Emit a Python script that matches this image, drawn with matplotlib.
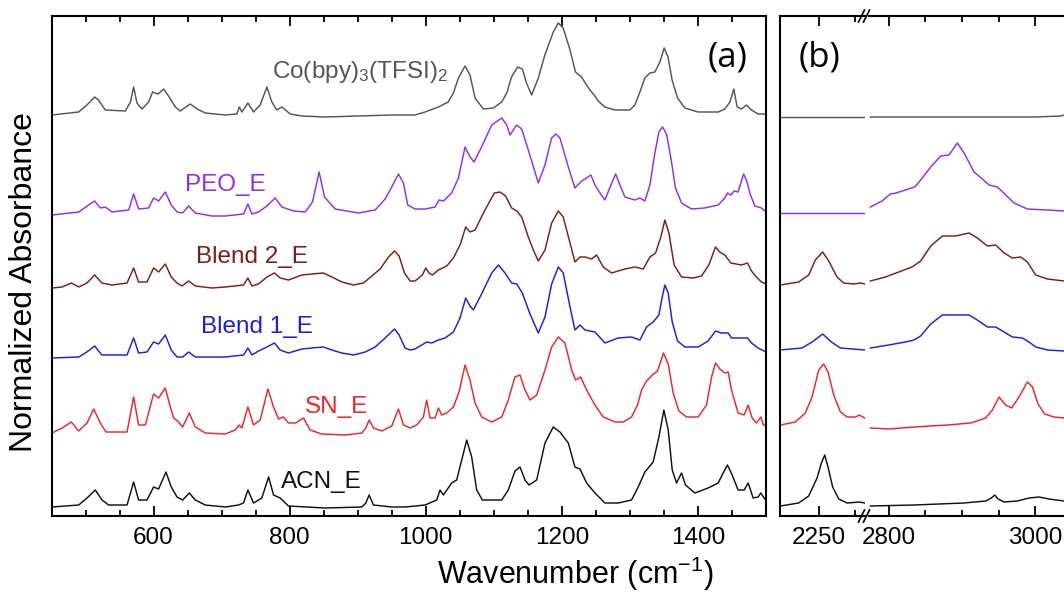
import matplotlib
matplotlib.use("Agg")
import matplotlib.pyplot as plt
from matplotlib.lines import Line2D
from matplotlib.ticker import MultipleLocator, FixedLocator

plt.rcParams['font.family'] = ['Liberation Sans', 'DejaVu Sans']
plt.rcParams['mathtext.fontset'] = 'custom'
plt.rcParams['mathtext.rm'] = 'Liberation Sans'
plt.rcParams['mathtext.it'] = 'Liberation Sans:italic'
plt.rcParams['mathtext.bf'] = 'Liberation Sans:bold'

# ---------------- data: panel (a) ----------------
co_wn = [450.8, 490, 502, 513.4, 519, 529, 558.5, 566, 570.7, 575.6, 583, 592.7, 598.6, 606.5, 614.8, 622, 632, 639,
         654, 664, 676, 705, 722.4, 725.9, 729.8, 738.6, 746.9, 756.7, 766.5, 773.8, 781, 788.5, 800.8, 818, 852, 901,
         950, 984, 999, 1018.6, 1033, 1040.6, 1048, 1057.7, 1065, 1072.4, 1084.6, 1099.3, 1111.6, 1119, 1126, 1135,
         1142, 1148, 1155.6, 1165.4, 1175, 1187.4, 1194.8, 1202, 1212, 1220, 1229, 1239, 1248.6, 1253.5, 1263, 1278,
         1300, 1307.3, 1314.7, 1322, 1329.4, 1336.7, 1344, 1350.4, 1356, 1362, 1370, 1380.8, 1400, 1429.7, 1439.5,
         1447, 1452.7, 1457.6, 1464, 1471.3, 1478.7, 1488.4, 1500]
co_ab = [4.01, 4.04, 4.11, 4.19, 4.16, 4.06, 4.05, 4.14, 4.29, 4.13, 4.07, 4.14, 4.24, 4.22, 4.27, 4.20, 4.09, 4.05,
         4.12, 4.07, 4.03, 4.01, 4.02, 4.09, 4.04, 4.13, 4.04, 4.11, 4.29, 4.14, 4.06, 4.09, 4.02, 4.00, 3.99, 4.00,
         4.01, 4.01, 4.04, 4.09, 4.14, 4.23, 4.38, 4.50, 4.41, 4.18, 4.07, 4.08, 4.14, 4.23, 4.39, 4.49,
         4.47, 4.33, 4.21, 4.38, 4.61, 4.84, 4.93, 4.88, 4.66, 4.44, 4.39, 4.28, 4.20, 4.15, 4.09, 4.06,
         4.06, 4.11, 4.24, 4.38, 4.43, 4.44, 4.54, 4.68, 4.59, 4.36, 4.18, 4.08, 4.04, 4.04, 4.07,
         4.14, 4.27, 4.09, 4.07, 4.11, 4.06, 4.02, 4.02]

peo_wn = [450.8, 490, 504.6, 513.4, 521.8, 529, 539, 563.4, 570.7, 578, 592.7, 600, 607.4, 617.2, 626, 634.4, 642.7,
          651.5, 661.3, 685.8, 705.3, 732.2, 738.6, 744.5, 754.3, 766.5, 778.7, 788.5, 805.6, 822.8, 833.5, 843.3,
          851.2, 866.8, 901, 925.6, 940.3, 950, 959.9, 967.2, 973.5, 984.3, 999, 1013.7, 1019.5, 1026, 1038, 1048,
          1057.7, 1065, 1071, 1082, 1096.9, 1111.6, 1119, 1123.8, 1133.6, 1141, 1150.7, 1165.4, 1175.2, 1185, 1190.9,
          1197.2, 1209.5, 1219.2, 1229, 1234, 1242.7, 1248.6, 1256, 1263.3, 1272, 1279, 1285.3, 1292.6, 1307.3,
          1314.7, 1322, 1329.4, 1336.7, 1342.6, 1348, 1353.8, 1360.2, 1367, 1375.9, 1390.5, 1410, 1429.7, 1439.5,
          1443.4, 1448.3, 1453.2, 1459, 1467, 1471.8, 1476.7, 1483.5, 1493.3, 1500]
peo_ab = [3.01, 3.04, 3.11, 3.15, 3.08, 3.09, 3.04, 3.06, 3.22, 3.07, 3.08, 3.18, 3.15, 3.24, 3.11, 3.04, 3.03,
          3.10, 3.03, 3.00, 3.00, 3.02, 3.12, 3.02, 3.04, 3.10, 3.18, 3.09, 3.05, 3.04, 3.14, 3.44,
          3.19, 3.07, 3.03, 3.06, 3.17, 3.29, 3.42, 3.33, 3.11, 3.07, 3.07, 3.09, 3.16, 3.15, 3.23, 3.38,
          3.69, 3.59, 3.54, 3.69, 3.91, 3.98, 3.91, 3.81, 3.91, 3.87, 3.66, 3.33, 3.51, 3.78, 3.82,
          3.78, 3.49, 3.28, 3.35, 3.37, 3.41, 3.31, 3.23, 3.16, 3.31, 3.42, 3.31, 3.19, 3.16,
          3.18, 3.15, 3.31, 3.63, 3.84, 3.89, 3.82, 3.58, 3.28, 3.13, 3.07, 3.08, 3.11, 3.18,
          3.23, 3.21, 3.25, 3.24, 3.42, 3.35, 3.22, 3.10, 3.08, 3.04]

b2_wn = [450.8, 465.5, 479.2, 490, 502, 513.4, 524, 539, 561, 570.7, 578, 590.3, 600, 607.4, 617.2, 626, 634.4,
         641.7, 651.5, 661.3, 685.8, 705.3, 732.2, 738.6, 744.5, 754.3, 766.5, 777.7, 786, 798.3, 818, 832.6, 849.7,
         862, 876.6, 893.8, 908.4, 920.7, 933, 945.2, 954, 960.8, 968.7, 977, 984.3, 995, 1000, 1004.8, 1009.7,
         1018.6, 1030.8, 1040.6, 1050.4, 1058.7, 1065, 1072.4, 1087, 1100.8, 1109, 1117.4, 1126.2, 1133.6, 1141,
         1150.7, 1158, 1165.4, 1175.2, 1185, 1194.8, 1202, 1212, 1219.2, 1226.6, 1234, 1243.7, 1251, 1260.8, 1273,
         1292.6, 1307.3, 1319.6, 1329.4, 1337.7, 1345.5, 1351.4, 1357.3, 1365, 1375.9, 1393, 1405.2, 1416, 1425.8,
         1432, 1439.5, 1448.3, 1464, 1472.8, 1478.7, 1486, 1493.3, 1500]
b2_ab = [2.28, 2.29, 2.33, 2.29, 2.33, 2.41, 2.33, 2.31, 2.33, 2.48, 2.34, 2.34, 2.48, 2.44, 2.52, 2.39, 2.33,
         2.30, 2.35, 2.30, 2.28, 2.29, 2.31, 2.38, 2.30, 2.32, 2.39, 2.43, 2.38, 2.36, 2.41, 2.42, 2.43,
         2.39, 2.34, 2.31, 2.33, 2.40, 2.47, 2.59, 2.65, 2.60, 2.43, 2.35, 2.35, 2.41, 2.48, 2.43, 2.41,
         2.46, 2.50, 2.58, 2.71, 2.89, 2.84, 2.86, 3.06, 3.23, 3.24, 3.20, 3.08, 3.05, 2.99,
         2.79, 2.66, 2.55, 2.66, 2.93, 3.05, 2.99, 2.73, 2.54, 2.59, 2.59, 2.57, 2.61, 2.49, 2.43,
         2.47, 2.49, 2.47, 2.59, 2.63, 2.79, 2.96, 2.83, 2.51, 2.39, 2.38, 2.40, 2.51, 2.69,
         2.64, 2.61, 2.53, 2.51, 2.53, 2.45, 2.39, 2.34, 2.32]

b1_wn = [450.8, 490, 502, 513.4, 524, 561, 570.7, 578, 590.3, 600, 607.4, 617.2, 626, 634.4, 642.7, 651.5, 661.3,
         685.8, 705.3, 732.2, 738.6, 744.5, 754.3, 766.5, 777.7, 786, 798.3, 818, 832.6, 849.7, 862, 876.6, 893.8,
         910.9, 925.6, 940.3, 954, 960.8, 969.6, 977, 984.3, 996.5, 1001.4, 1008.8, 1018.6, 1028.3, 1040.6, 1050.4,
         1058.7, 1065, 1070, 1082, 1096.9, 1106.7, 1116.5, 1126.2, 1133.6, 1141.9, 1153.2, 1165.4, 1175.2, 1185,
         1194.8, 1202, 1212, 1219.2, 1226.6, 1234, 1248.6, 1263.3, 1282.8, 1302.4, 1314.7, 1324.5, 1334.2, 1342.6,
         1347.5, 1351.4, 1356.3, 1362.2, 1370, 1380.8, 1400.3, 1415, 1425.8, 1434.6, 1444.4, 1449.3, 1464, 1472.8,
         1478.7, 1488.4, 1500]
b1_ab = [1.58, 1.59, 1.64, 1.70, 1.61, 1.61, 1.78, 1.63, 1.64, 1.74, 1.72, 1.81, 1.66, 1.59, 1.59, 1.64, 1.59,
         1.59, 1.59, 1.61, 1.68, 1.61, 1.65, 1.69, 1.73, 1.66, 1.63, 1.67, 1.68, 1.69, 1.66, 1.63, 1.61,
         1.64, 1.69, 1.78, 1.87, 1.81, 1.68, 1.66, 1.67, 1.72, 1.74, 1.73, 1.76, 1.78, 1.84, 1.98,
         2.18, 2.10, 2.06, 2.22, 2.43, 2.51, 2.43, 2.33, 2.32, 2.23, 2.02, 1.83, 1.99, 2.32,
         2.49, 2.43, 2.09, 1.86, 1.91, 1.86, 1.84, 1.73, 1.78, 1.79, 1.76, 1.89, 1.94, 2.01,
         2.19, 2.31, 2.23, 1.94, 1.75, 1.69, 1.69, 1.75, 1.85, 1.83, 1.83, 1.78, 1.78, 1.78,
         1.73, 1.68, 1.64]

sn_wn = [450.8, 465.5, 479.2, 490, 502.2, 512, 521.8, 530, 561, 570.7, 578, 587.9, 600, 607.4, 617.2, 624.6, 629.5,
         635.3, 642.7, 652.5, 661.3, 676, 705.3, 720, 725.9, 729.8, 738.6, 746.9, 756.7, 768, 776.3, 783.6, 791,
         798.3, 809, 820.3, 830, 847.3, 881.5, 906, 911.9, 916.8, 923.1, 935.4, 950, 959.9, 967.2, 977, 986.7,
         996.5, 1001.4, 1006.3, 1013.7, 1018.6, 1023.4, 1030.8, 1040.6, 1048.9, 1057.7, 1065, 1072.4, 1082.2,
         1096.9, 1111.6, 1121.3, 1131, 1138.5, 1145.8, 1153.2, 1163, 1175.2, 1185, 1194.8, 1204.6, 1214.4, 1220.2,
         1227.6, 1236.4, 1248.6, 1260.8, 1268.2, 1278, 1290.2, 1302.4, 1311.2, 1317.1, 1324.5, 1332.8, 1340.6,
         1349.4, 1356.3, 1363.6, 1372, 1383.2, 1400.3, 1412.6, 1420, 1425.8, 1432.2, 1439.5, 1444.4, 1449.3, 1459,
         1467.9, 1473.8, 1479.6, 1486, 1492.4, 1496.3, 1500]
sn_ab = [0.83, 0.88, 0.94, 0.85, 0.93, 1.07, 0.93, 0.84, 0.84, 1.19, 0.91, 0.91, 1.22, 1.18, 1.28, 1.09, 0.98,
         0.95, 0.89, 1.03, 0.89, 0.83, 0.82, 0.86, 0.91, 0.88, 1.09, 0.91, 0.96, 1.27, 1.09, 0.97, 0.99,
         0.93, 0.93, 0.98, 0.86, 0.82, 0.81, 0.83, 0.88, 0.96, 0.88, 0.85, 0.90, 1.07, 0.91, 0.88, 0.91,
         0.99, 1.16, 0.98, 0.98, 1.08, 1.01, 1.03, 1.09, 1.24, 1.51, 1.36, 1.13, 0.99,
         0.94, 0.99, 1.16, 1.39, 1.41, 1.26, 1.16, 1.21, 1.46, 1.69, 1.79, 1.73, 1.46, 1.36,
         1.39, 1.26, 1.11, 0.99, 0.97, 0.94, 0.94, 0.99, 1.11, 1.26, 1.35, 1.41, 1.45,
         1.63, 1.52, 1.23, 1.05, 0.99, 0.99, 1.11, 1.39, 1.53, 1.47, 1.43, 1.44, 1.26, 1.03,
         1.01, 1.11, 0.98, 0.93, 0.99, 0.91, 0.91]

acn_wn = [450.8, 490, 502.2, 514.4, 524.2, 534, 561, 570.7, 578, 590.3, 600, 607.4, 618.2, 626, 634.4, 642.7, 652.5,
          661.3, 676, 705.3, 724.9, 732.2, 738.6, 746.9, 759.1, 769, 776.3, 786, 798.3, 852, 906, 911.9, 916.8,
          923.1, 950, 969.6, 999, 1016.1, 1021, 1025.9, 1038.1, 1045.5, 1052.8, 1060.2, 1067.5, 1074.8, 1083.2,
          1111.6, 1121.3, 1131.1, 1138.5, 1145.8, 1151.7, 1163, 1175.2, 1187.4, 1197.2, 1209.5, 1219.2, 1226.6,
          1236.4, 1248.6, 1263.3, 1282.8, 1302.4, 1312.2, 1322, 1334.2, 1342.6, 1349.9, 1356.3, 1362.2, 1368.5,
          1375.9, 1381.7, 1395.4, 1415, 1429.7, 1437, 1443.4, 1450.3, 1459, 1467.9, 1473.8, 1481.1, 1488.4, 1492.4,
          1498.2]
acn_ab = [0.09, 0.11, 0.18, 0.26, 0.16, 0.11, 0.11, 0.34, 0.16, 0.16, 0.29, 0.27, 0.44, 0.29, 0.19, 0.16, 0.23,
          0.16, 0.11, 0.09, 0.11, 0.13, 0.26, 0.13, 0.18, 0.39, 0.21, 0.18, 0.10, 0.08, 0.09, 0.13, 0.21,
          0.11, 0.09, 0.09, 0.11, 0.16, 0.26, 0.21, 0.33, 0.36, 0.56, 0.76, 0.59, 0.26, 0.16,
          0.16, 0.26, 0.45, 0.49, 0.36, 0.31, 0.36, 0.73, 0.89, 0.84, 0.73, 0.49, 0.47,
          0.33, 0.23, 0.13, 0.13, 0.16, 0.29, 0.44, 0.54, 0.79, 1.06, 0.86, 0.46, 0.33,
          0.43, 0.31, 0.23, 0.28, 0.33, 0.43, 0.51, 0.41, 0.26, 0.26, 0.33, 0.18, 0.19, 0.23,
          0.17]

# ---------------- data: panel (b), low segment (2200-2315) ----------------
co_lo_wn = [2197.6, 2255, 2312.8]
co_lo_ab = [3.99, 3.99, 3.99]
peo_lo_wn = [2197.6, 2255, 2312.8]
peo_lo_ab = [3.03, 3.03, 3.03]
b2_lo_wn = [2197.6, 2222.6, 2236.3, 2245.4, 2255.4, 2263.6, 2275, 2284, 2297.8, 2306.9, 2312.8]
b2_lo_ab = [2.31, 2.34, 2.41, 2.56, 2.64, 2.55, 2.39, 2.33, 2.32, 2.33, 2.32]
b1_lo_wn = [2197.6, 2227.2, 2240.9, 2255.4, 2267.3, 2279.6, 2312.8]
b1_lo_ab = [1.66, 1.68, 1.74, 1.82, 1.74, 1.68, 1.66]
sn_lo_wn = [2197.6, 2218, 2231.7, 2240.8, 2250, 2256.8, 2262.7, 2270.5, 2279.6, 2288.7, 2300, 2305.5, 2312.8]
sn_lo_ab = [0.91, 0.94, 1.03, 1.19, 1.46, 1.52, 1.44, 1.21, 1.04, 0.99, 0.99, 1.01, 0.98]
acn_lo_wn = [2197.6, 2222.6, 2236.3, 2247.7, 2253.6, 2258.2, 2262.7, 2269, 2277.3, 2288.7, 2305.5, 2312.8]
acn_lo_ab = [0.10, 0.13, 0.20, 0.38, 0.53, 0.61, 0.49, 0.29, 0.17, 0.13, 0.14, 0.13]

# ---------------- data: panel (b), high segment (2775-3050) ----------------
co_hi_wn = [2775, 2900, 3000, 3035, 3045]
co_hi_ab = [3.99, 3.99, 3.99, 4.00, 4.02]
peo_hi_wn = [2775, 2790.9, 2802.3, 2810, 2822.8, 2835.5, 2843.7, 2857.4, 2871, 2882.4, 2893.8, 2902.9, 2916.6,
             2928, 2937, 2948.5, 2958.5, 2971.2, 2989.4, 3016.8, 3039.5, 3050]
peo_hi_ab = [3.09, 3.15, 3.22, 3.23, 3.26, 3.29, 3.36, 3.49, 3.60, 3.61, 3.73, 3.63, 3.44,
             3.37, 3.31, 3.29, 3.22, 3.13, 3.07, 3.06, 3.05, 3.05]
b2_hi_wn = [2775, 2795.4, 2813.7, 2831.9, 2843.7, 2857.4, 2873.3, 2891.5, 2909.7, 2921.1, 2934.8, 2946.2, 2957.6,
            2969, 2980.3, 2989.4, 3000.8, 3016.8, 3039.5, 3050]
b2_hi_ab = [2.35, 2.39, 2.44, 2.49, 2.55, 2.70, 2.80, 2.80, 2.83, 2.78, 2.70, 2.71, 2.63,
            2.58, 2.59, 2.54, 2.41, 2.37, 2.35, 2.35]
b1_hi_wn = [2775, 2800, 2822.8, 2834.6, 2843.7, 2857.4, 2873.3, 2893.8, 2909.7, 2921.1, 2934.8, 2946.2, 2957.6,
            2969, 2982.6, 2991.7, 3000.8, 3016.8, 3039.5, 3050]
b1_hi_ab = [1.68, 1.71, 1.74, 1.76, 1.80, 1.92, 2.01, 2.01, 2.01, 1.96, 1.89, 1.89, 1.84,
            1.79, 1.78, 1.74, 1.69, 1.66, 1.65, 1.65]
sn_hi_wn = [2775, 2800, 2834.6, 2880.1, 2912, 2932.5, 2941.6, 2950.7, 2959.8, 2968, 2978, 2989.4, 2996.3, 3004,
            3013.1, 3025.9, 3039.5, 3050]
sn_hi_ab = [0.88, 0.87, 0.89, 0.91, 0.93, 0.98, 1.06, 1.19, 1.11, 1.08, 1.19, 1.34, 1.29, 1.12,
            1.02, 0.99, 0.98, 0.98]
acn_hi_wn = [2775, 2834.6, 2902.9, 2932.5, 2940.2, 2944.8, 2949.4, 2957.6, 2975.8, 2991.7, 3005.4, 3019, 3039.5,
             3050]
acn_hi_ab = [0.10, 0.11, 0.13, 0.15, 0.18, 0.21, 0.17, 0.14, 0.15, 0.18, 0.19, 0.17, 0.15, 0.15]

names = ["Co(bpy)$_3$(TFSI)$_2$", "PEO_E", "Blend 2_E", "Blend 1_E", "SN_E", "ACN_E"]
colors = ["#555555", "#8c2ff0", "#7d1c1c", "#1d1de0", "#e8262c", "#111111"]

series_a = [(co_wn, co_ab), (peo_wn, peo_ab), (b2_wn, b2_ab), (b1_wn, b1_ab), (sn_wn, sn_ab), (acn_wn, acn_ab)]
series_lo = [(co_lo_wn, co_lo_ab), (peo_lo_wn, peo_lo_ab), (b2_lo_wn, b2_lo_ab), (b1_lo_wn, b1_lo_ab),
             (sn_lo_wn, sn_lo_ab), (acn_lo_wn, acn_lo_ab)]
series_hi = [(co_hi_wn, co_hi_ab), (peo_hi_wn, peo_hi_ab), (b2_hi_wn, b2_hi_ab), (b1_hi_wn, b1_hi_ab),
             (sn_hi_wn, sn_hi_ab), (acn_hi_wn, acn_hi_ab)]

# ---------------- figure ----------------
W, H = 1064, 592
fig = plt.figure(figsize=(W / 100, H / 100), dpi=100)


def frac_rect(x0, x1, y_top=16, y_bot=516):
    return [x0 / W, 1 - y_bot / H, (x1 - x0) / W, (y_bot - y_top) / H]


ax_a = fig.add_axes(frac_rect(51.5, 766))
ax_lo = fig.add_axes(frac_rect(780.3, 865))
ax_hi = fig.add_axes(frac_rect(869, 1130))

LW = 1.05
for (x, y), c in zip(series_a, colors):
    ax_a.plot(x, y, color=c, lw=LW, solid_joinstyle='round')
for (x, y), c in zip(series_lo, colors):
    ax_lo.plot(x, y, color=c, lw=LW, solid_joinstyle='round')
for (x, y), c in zip(series_hi, colors):
    ax_hi.plot(x, y, color=c, lw=LW, solid_joinstyle='round')

ax_a.set_xlim(450, 1500)
ax_lo.set_xlim(2197.5, 2313.2)
ax_hi.set_xlim(2773.1, 3129.6)
for ax in (ax_a, ax_lo, ax_hi):
    ax.set_ylim(0, 5)
    ax.set_yticks([])
    for s in ax.spines.values():
        s.set_linewidth(1.5)
    ax.tick_params(axis='x', which='both', direction='in', top=True, bottom=True,
                   width=1.3, labelsize=17.5, pad=8)
    ax.tick_params(axis='x', which='major', length=7)
    ax.tick_params(axis='x', which='minor', length=4)

ax_a.xaxis.set_major_locator(MultipleLocator(200))
ax_a.xaxis.set_minor_locator(MultipleLocator(50))
ax_lo.xaxis.set_major_locator(FixedLocator([2250]))
ax_lo.xaxis.set_minor_locator(FixedLocator([2300]))
ax_hi.xaxis.set_major_locator(FixedLocator([2800, 3000]))
ax_hi.xaxis.set_minor_locator(FixedLocator([2850, 2900, 2950, 3050, 3100]))

ax_lo.spines['right'].set_visible(False)
ax_hi.spines['left'].set_visible(False)

# break marks
for ytop in (16, 516):
    for xc in (861.5, 866.5):
        fig.add_artist(Line2D([(xc - 3) / W, (xc + 3) / W], [1 - (ytop + 6) / H, 1 - (ytop - 6) / H],
                              transform=fig.transFigure, color='black', lw=1.2))

# curve labels
label_pos = [(903.5, 4.44), (705.3, 3.31), (745, 2.59), (752.3, 1.89), (868.3, 1.09), (847, 0.34)]
for name, c, (lx, ly) in zip(names, colors, label_pos):
    ax_a.text(lx, ly, name, color=c, fontsize=17.5, ha='center', va='center')

ax_a.text(1443.9, 4.59, "(a)", fontsize=25, ha='center', va='center', family=['Open Sans', 'DejaVu Sans'])
ax_lo.text(2250.4, 4.59, "(b)", fontsize=25, ha='center', va='center', family=['Open Sans', 'DejaVu Sans'])

fig.text(575 / W, 1 - 574 / H, "Wavenumber (cm$^{-1}$)", fontsize=22, ha='center', va='center')
fig.text(24 / W, 1 - 282.5 / H, "Normalized Absorbance", fontsize=23, ha='center', va='center', rotation=90)

fig.savefig("out.png", dpi=100)
